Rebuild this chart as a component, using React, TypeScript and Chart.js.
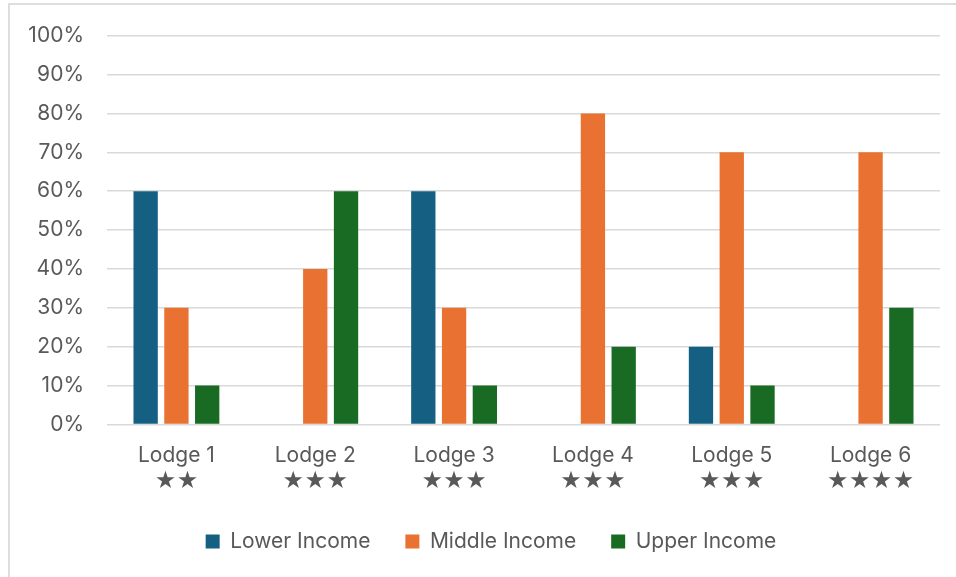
import React, { useEffect, useRef } from "react";
import { Chart, registerables } from "chart.js";

Chart.register(...registerables);

const categories = ["Lodge 1", "Lodge 2", "Lodge 3", "Lodge 4", "Lodge 5", "Lodge 6"];
const starRatings = ["★★", "★★★", "★★★", "★★★", "★★★", "★★★★"];
const lowerIncome = [60, 0, 60, 0, 20, 0];
const middleIncome = [30, 40, 30, 80, 70, 70];
const upperIncome = [10, 60, 10, 20, 10, 30];
const seriesNames = ["Lower Income", "Middle Income", "Upper Income"];
const seriesColors = ["#156082", "#E97132", "#196B24"];

const FONT = "Inter, 'Noto Sans', 'DejaVu Sans', sans-serif";
const TEXT = "#595959";

// The legend is centred on the frame rather than on the canvas, so its box
// starts a little to the right of the y-axis labels.
const legendShift = {
  id: "legendShift",
  afterLayout(chart: any) {
    if (chart.legend) chart.legend.left = 42;
  },
};

export default function App() {
  const canvasRef = useRef<HTMLCanvasElement | null>(null);

  useEffect(() => {
    const canvas = canvasRef.current;
    if (!canvas) return;
    const series = [lowerIncome, middleIncome, upperIncome];
    const chart = new Chart(canvas, {
      type: "bar",
      data: {
        labels: categories.map((c, i) => [c, starRatings[i]]),
        datasets: series.map((values, i) => ({
          label: seriesNames[i],
          data: values,
          backgroundColor: seriesColors[i],
          borderWidth: 0,
          barPercentage: 0.79,
          categoryPercentage: 0.665,
        })),
      },
      options: {
        responsive: false,
        animation: false,
        devicePixelRatio: 1,
        layout: { padding: { left: 0, right: 16, top: 32.5, bottom: 15 } },
        plugins: {
          tooltip: { enabled: false },
          legend: {
            position: "bottom",
            labels: {
              boxWidth: 14,
              boxHeight: 14,
              padding: 35,
              color: TEXT,
              font: { family: FONT, size: 21 },
            },
          },
        },
        scales: {
          x: {
            grid: { display: false, drawTicks: false },
            border: { display: false },
            ticks: {
              color: TEXT,
              padding: 19,
              font: { family: FONT, size: 21, lineHeight: 1.2 },
              maxRotation: 0,
            },
            afterFit: (scale: any) => {
              scale.height = 71.5;
            },
          },
          y: {
            min: 0,
            max: 100,
            grid: { color: "#d9d9d9", lineWidth: 1.5, drawTicks: false },
            border: { display: false },
            ticks: {
              stepSize: 10,
              padding: 23,
              color: TEXT,
              font: { family: FONT, size: 21 },
              callback: (v: any) => `${v}%`,
            },
            afterFit: (scale: any) => {
              scale.width = 107;
            },
          },
        },
      },
      plugins: [legendShift],
    });
    return () => chart.destroy();
  }, []);

  return (
    <div
      style={{
        position: "fixed",
        left: 0,
        top: 0,
        width: 956,
        height: 577,
        overflow: "hidden",
        background: "#ffffff",
      }}
    >
      <div
        style={{
          position: "absolute",
          left: 8,
          top: 3,
          width: 1000,
          height: 650,
          border: "2px solid #dedede",
        }}
      />
      <canvas
        ref={canvasRef}
        width={956}
        height={577}
        style={{ position: "absolute", left: 0, top: 0 }}
      />
    </div>
  );
}
